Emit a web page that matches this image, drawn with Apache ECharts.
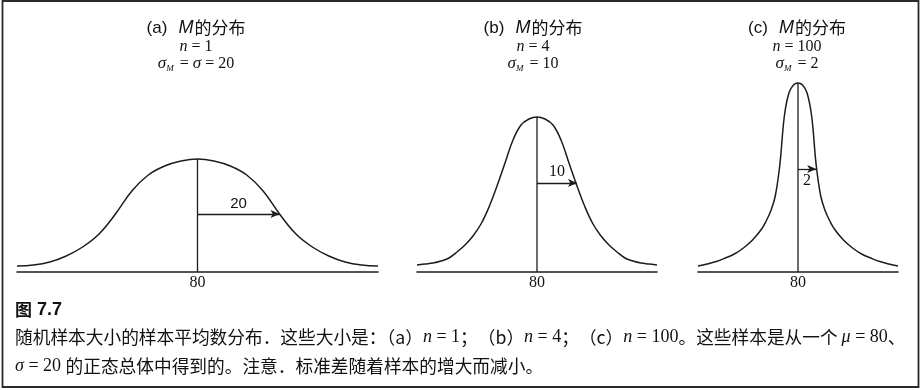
<!DOCTYPE html>
<html><head><meta charset="utf-8">
<script src="https://cdn.jsdelivr.net/npm/echarts@6/dist/echarts.min.js"></script>
<style>html,body{margin:0;padding:0;background:#fff}#c{width:922px;height:390px}</style>
</head><body><div id="c"></div>
<script>
// ---- data ----
const meanValue = 80;
const tickValues = [80];
const panelLetters = ['a', 'b', 'c'];
const sampleSizes = [1, 4, 100];
const sigmaM = [20, 10, 2];
const sigmaTitleRest = ['σ = 20', '10', '2'];
const arrowHeights = [58, 89, 103];
const xMin = [36, 50, 69];
const xMax = [124, 110, 91];

const curveA_x = [36,40,44,48,52,56,60,64,68,72,76,80,84,88,92,96,100,104,108,112,116,120,124];
const curveA_y = [6,7,10,16,25,38,58,81,97,106,111,113,111,106,97,81,58,38,25,16,10,7,6];

const curveB_x = [50,52,54,56,58,60,62,64,66,68,70,72,74,76,78,80,82,84,86,88,90,92,94,96,98,100,102,104,106,108,110];
const curveB_y = [7,8,9,11,14,20,27,36,48,65,86,109,132,147,153,155,153,147,132,109,86,65,48,36,27,20,14,11,9,8,7];

const curveC_x = [69,70,71,72,73,74,75,76,76.5,77,77.5,78,78.5,79,79.5,80,80.5,81,81.5,82,82.5,83,83.5,84,85,86,87,88,89,90,91];
const curveC_y = [6,8,10.5,14,18,24,32,43,51,61,76,107,156,179,187,189,187,179,156,107,76,61,51,43,32,24,18,14,10.5,8,6];

// ---- layout / style ----
const ink = '#1c1c1c';
const curves = [[curveA_x, curveA_y], [curveB_x, curveB_y], [curveC_x, curveC_y]];
const gridBox = [{left: 17, right: 544}, {left: 417, right: 265}, {left: 698, right: 24}];
const titleCenters = [196, 533, 797];

const grids = [], xAxes = [], yAxes = [], series = [], graphics = [];

curves.forEach(([xs, ys], i) => {
  grids.push({left: gridBox[i].left, right: gridBox[i].right, top: 72, bottom: 118});
  xAxes.push({
    type: 'value', gridIndex: i, min: xMin[i], max: xMax[i],
    axisLine: {show: true, onZero: false, lineStyle: {color: ink, width: 1.6}},
    axisTick: {show: false}, splitLine: {show: false},
    axisLabel: {customValues: tickValues, color: '#111', fontFamily: 'Liberation Serif', fontSize: 16, margin: 3}
  });
  yAxes.push({type: 'value', gridIndex: i, min: 0, max: 200, show: false});

  const peak = ys[xs.indexOf(meanValue)];
  series.push({
    type: 'line', xAxisIndex: i, yAxisIndex: i, smooth: 0.4, symbol: 'none',
    data: xs.map((x, k) => [x, ys[k]]),
    lineStyle: {color: ink, width: 1.5},
    markLine: {
      silent: true, symbol: ['none', 'arrow'], symbolSize: [6, 9],
      lineStyle: {color: ink, width: 1.3, type: 'solid'},
      label: {
        show: true, formatter: String(sigmaM[i]),
        position: i < 2 ? 'insideMiddleTop' : 'insideMiddleBottom',
        distance: i < 2 ? 3 : 4,
        color: '#111', fontSize: i === 0 ? 15 : 16,
        fontFamily: i === 0 ? 'Liberation Sans' : 'Liberation Serif'
      },
      data: [[{coord: [meanValue, arrowHeights[i]]}, {coord: [meanValue + sigmaM[i], arrowHeights[i]]}]]
    }
  });
  series.push({
    type: 'line', xAxisIndex: i, yAxisIndex: i, symbol: 'none',
    data: [[meanValue, 0], [meanValue, peak]],
    lineStyle: {color: ink, width: 1.3}
  });

  // titles
  const cx = titleCenters[i];
  graphics.push({
    type: 'text', x: cx, y: 28,
    style: {
      text: '{p|(' + panelLetters[i] + ')}{m|M}{z|的分布}', align: 'center', verticalAlign: 'middle',
      rich: {
        p: {fontFamily: 'Liberation Sans', fontSize: 17, fill: '#111'},
        m: {fontFamily: 'Liberation Sans', fontStyle: 'italic', fontSize: 18, fill: '#111', padding: [0, 1, 0, 11]},
        z: {fontFamily: 'Noto Sans CJK SC', fontSize: 17, fill: '#111'}
      }
    }
  });
  graphics.push({
    type: 'text', x: cx, y: 47,
    style: {
      text: '{i|n}{r| = ' + sampleSizes[i] + '}', align: 'center', verticalAlign: 'middle',
      rich: {
        i: {fontFamily: 'Liberation Serif', fontStyle: 'italic', fontSize: 16, fill: '#111'},
        r: {fontFamily: 'Liberation Serif', fontSize: 16, fill: '#111'}
      }
    }
  });
  const rest = sigmaTitleRest[i].split(' = ');
  const line3 = rest.length > 1
    ? '{s|σ}{sub|M}{r| = }{s|σ}{r| = ' + rest[1] + '}'
    : '{s|σ}{sub|M}{r| = ' + rest[0] + '}';
  graphics.push({
    type: 'text', x: cx, y: 64,
    style: {
      text: line3, align: 'center', verticalAlign: 'middle',
      rich: {
        s: {fontFamily: 'Liberation Serif', fontStyle: 'italic', fontSize: 17, fill: '#111', lineHeight: 18},
        sub: {fontFamily: 'Liberation Serif', fontStyle: 'italic', fontSize: 9, fill: '#111', verticalAlign: 'bottom', lineHeight: 18, padding: [8, 2, 0, 0]},
        r: {fontFamily: 'Liberation Serif', fontSize: 16, fill: '#111', lineHeight: 18}
      }
    }
  });
});

// frame
graphics.push({
  type: 'rect', shape: {x: 2.5, y: 1, width: 916, height: 386},
  style: {fill: 'none', stroke: '#2a2a2a', lineWidth: 1.8}, z: 0
});

// caption
const capRich = {
  c: {fontFamily: 'Noto Sans CJK SC', fontSize: 17.7, fill: '#111'},
  i: {fontFamily: 'Liberation Serif', fontStyle: 'italic', fontSize: 18, fill: '#111'},
  r: {fontFamily: 'Liberation Serif', fontSize: 18, fill: '#111'},
  b: {fontFamily: 'Noto Sans CJK SC', fontWeight: 'bold', fontSize: 17, fill: '#111'},
  bn: {fontFamily: 'Liberation Sans', fontWeight: 'bold', fontSize: 18, fill: '#111', padding: [0, 0, 0, 5]}
};
graphics.push({
  type: 'text', x: 15, y: 310,
  style: {text: '{b|图}{bn|7.7}', verticalAlign: 'middle', rich: capRich}
});
graphics.push({
  type: 'text', x: 15, y: 337,
  style: {
    text: '{c|随机样本大小的样本平均数分布．这些大小是：（a）}{i|n}{r| = 1}{c|；（b）}{i|n}{r| = 4}{c|；（c）}{i|n}{r| = 100}{c|。这些样本是从一个 }{i|μ}{r| = 80}{c|、}',
    verticalAlign: 'middle', rich: capRich
  }
});
graphics.push({
  type: 'text', x: 15, y: 366,
  style: {
    text: '{i|σ}{r| = 20 }{c|的正态总体中得到的。注意．标准差随着样本的增大而减小。}',
    verticalAlign: 'middle', rich: capRich
  }
});

const chart = echarts.init(document.getElementById('c'), null, {renderer: 'canvas'});
chart.setOption({
  animation: false,
  backgroundColor: '#fff',
  grid: grids, xAxis: xAxes, yAxis: yAxes, series: series,
  graphic: graphics
});
</script>
</body></html>
